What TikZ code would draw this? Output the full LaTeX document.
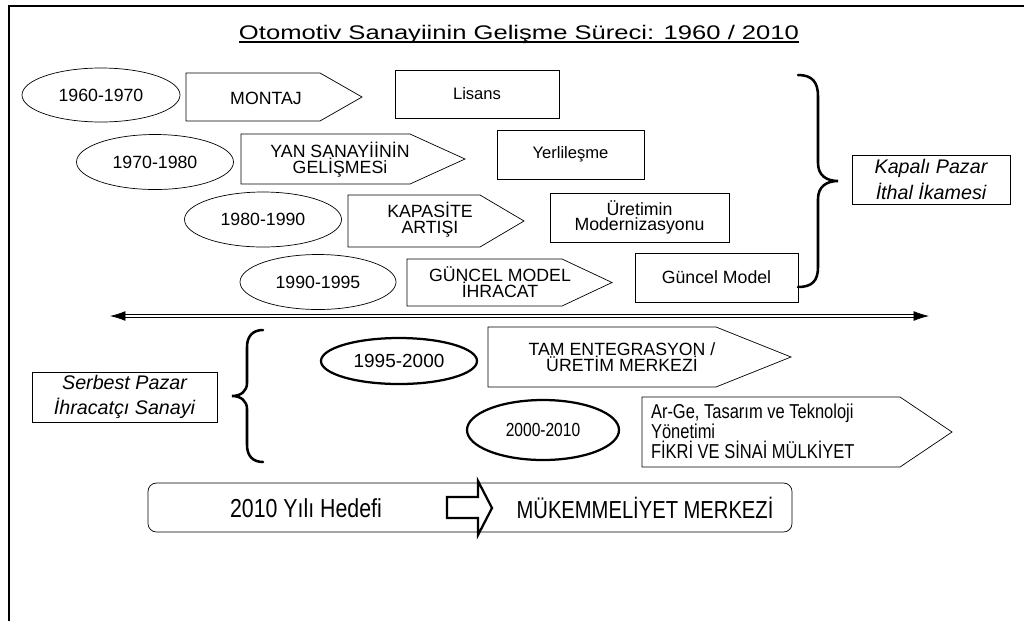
\documentclass[tikz,border=0pt]{standalone}
\usepackage{fontspec}
\setmainfont{Liberation Sans}
\newfontfamily\narrowfont[FakeStretch=0.82]{Liberation Sans}
\newfontfamily\widefont[FakeStretch=1.3]{Liberation Sans}
\usetikzlibrary{shapes.geometric,arrows.meta}
\newcommand\pxu{0.025cm}
\begin{document}
\begin{tikzpicture}[x=0.025cm,y=-0.025cm,
  every node/.style={inner sep=0pt,outer sep=0pt,align=center},
  thinline/.style={line width=0.5pt},
  bx/.style={draw,thinline},
  ell/.style={draw,ellipse,thinline},
  thickell/.style={draw,ellipse,line width=1.6pt},
  pent/.style={draw,thinline,line join=miter},
  brace/.style={line width=1.8pt,line cap=round},
  framel/.style={line width=1.5pt},
  sz/.style 2 args={minimum width=#1*\pxu,minimum height=#2*\pxu},
  lbl/.style={font=\fontsize{12.6}{11.2}\selectfont},
  small/.style={font=\fontsize{11.8}{11}\selectfont},
  side/.style={font=\fontsize{14}{18.5}\selectfont\itshape},
  goal/.style={font=\fontsize{17.5}{20}\selectfont\narrowfont},
]
\useasboundingbox (0,0) rectangle (1024,621);
% frame
\draw[framel] (8,6) -- (1024,6);
\draw[framel] (9,6) -- (9,621);
% title
\node[anchor=base,font=\fontsize{14}{16}\selectfont\widefont] (title) at (519,39) {Otomotiv Sanayiinin Gelişme Süreci: 1960 / 2010};
\draw[line width=0.9pt] ([yshift=-2.2pt]title.base west) -- ([yshift=-2.2pt]title.base east);

% row 1
\node[ell,sz={158}{54},lbl] (e1) at (101,95) {1960-1970};
\draw[pent] (186,73) -- (320,73) -- (362,97) -- (320,121) -- (186,121) -- cycle;
\node[lbl] (t1) at (266,98) {MONTAJ};
\node[bx,sz={164}{48},small] (b1) at (477,94) {Lisans};
% row 2
\node[ell,sz={157}{55},lbl] (e2) at (155,162) {1970-1980};
\draw[pent] (241,134) -- (410,134) -- (465,159) -- (410,184) -- (241,184) -- cycle;
\node[lbl] (t2) at (340,160) {YAN SANAYİİNİN\\GELİŞMESi};
\node[bx,sz={147}{49},small] (b2) at (570.5,154.5) {Yerlileşme};
% row 3
\node[ell,sz={157}{55},lbl] (e3) at (263,219.5) {1980-1990};
\draw[pent] (348,195) -- (480,195) -- (524,221) -- (480,247) -- (348,247) -- cycle;
\node[lbl] (t3) at (430,220) {KAPASİTE\\ARTIŞI};
\node[bx,sz={179}{49},lbl] (b3) at (639.5,217.5) {Üretimin\\Modernizasyonu};
% row 4
\node[ell,sz={156}{55},lbl] (e4) at (318,282) {1990-1995};
\draw[pent] (407,259) -- (562,259) -- (612,282.5) -- (562,306) -- (407,306) -- cycle;
\node[lbl] (t4) at (500,282) {GÜNCEL MODEL\\İHRACAT};
\node[bx,sz={163}{49},lbl] (b4) at (716.5,277.5) {Güncel Model};
% right brace
\draw[brace] (798,75) .. controls (812,75) and (818,82) .. (818,96) -- (818,163)
  .. controls (818,175) and (826,181) .. (838,181)
  .. controls (826,181) and (818,187) .. (818,199) -- (818,267)
  .. controls (818,281) and (812,287) .. (798,287);
\node[bx,sz={158}{49},side] (closed) at (931,179.5) {Kapalı Pazar\\İthal İkamesi};
% divider arrow
\coordinate (al) at (110,316);
\coordinate (ar) at (929,316);
\draw[line width=0.5pt,double,double distance=1.2pt,{Latex[length=11pt,width=7pt]}-{Latex[length=11pt,width=7pt]}] (al) -- (ar);
% row 5
\node[thickell,sz={156}{46},font=\fontsize{13.5}{16}\selectfont] (e5) at (399,361) {1995-2000};
\draw[pent] (488,327) -- (716,327) -- (791,357) -- (716,387) -- (488,387) -- cycle;
\node[font=\fontsize{12.6}{11.5}\selectfont] (t5) at (622,357) {TAM ENTEGRASYON /\\ÜRETİM MERKEZİ};
% left brace
\draw[brace] (263,330) .. controls (253,330) and (247,336) .. (247,347) -- (247,383)
  .. controls (247,391) and (241,396) .. (232,396)
  .. controls (241,396) and (247,401) .. (247,409) -- (247,445)
  .. controls (247,456) and (253,462) .. (263,462);
\node[bx,sz={185}{50},font=\fontsize{14}{17.7}\selectfont\itshape] (open) at (124.5,397) {Serbest Pazar\\İhracatçı Sanayi};
% row 6
\node[thickell,sz={152}{60},font=\fontsize{13.5}{16}\selectfont\narrowfont] (e6) at (543,430) {2000-2010};
\draw[pent] (642,397) -- (900,397) -- (952,432) -- (900,467) -- (642,467) -- cycle;
\node[anchor=west,align=left,font=\fontsize{14.3}{14.2}\selectfont\narrowfont] (t6) at (651,431) {Ar-Ge, Tasarım ve Teknoloji\\Yönetimi\\FİKRİ VE SİNAİ MÜLKİYET};
% goal box
\node[bx,sz={644}{49},rounded corners=6pt] (goalbox) at (470,507.5) {};
\node[goal,font=\fontsize{18.5}{20}\selectfont\narrowfont] (g1) at (306,508) {2010 Yılı Hedefi};
\node[goal] (g2) at (645,508) {MÜKEMMELİYET MERKEZİ};
\draw[line width=1.6pt,line join=miter] (447,497) -- (478,497) -- (478,481) -- (492,508) -- (478,535) -- (478,518) -- (447,518) -- cycle;
\end{tikzpicture}
\end{document}
